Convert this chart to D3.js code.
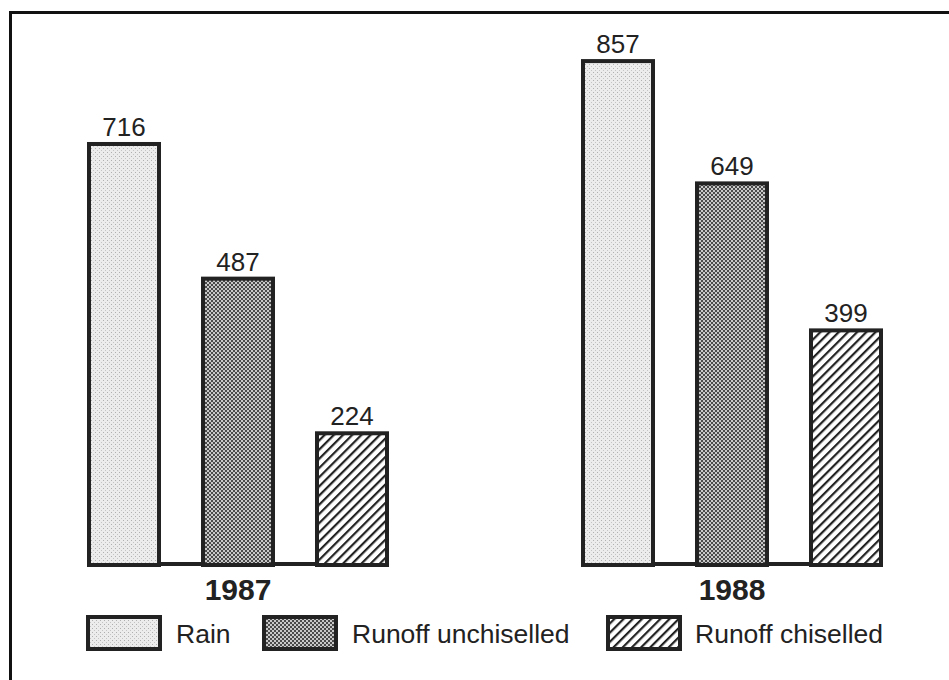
<!DOCTYPE html>
<html><head><meta charset="utf-8">
<script src="https://cdn.jsdelivr.net/npm/d3@7"></script>
<style>body{margin:0;background:#fff}svg{display:block}</style>
</head><body>
<script>
const years = ["1987", "1988"];
const seriesNames = ["Rain", "Runoff unchiselled", "Runoff chiselled"];
const values1987 = [716, 487, 224];
const values1988 = [857, 649, 399];
const allValues = [values1987, values1988];

const W = 949, H = 680;
const svg = d3.select("body").append("svg").attr("width", W).attr("height", H);
const defs = svg.append("defs");
const FONT = "Liberation Sans, Arial, Helvetica, sans-serif";

// patterns
const pRain = defs.append("pattern").attr("id","pRain").attr("patternUnits","userSpaceOnUse").attr("width",4).attr("height",4);
pRain.append("rect").attr("width",4).attr("height",4).attr("fill","#ececec");
pRain.append("rect").attr("x",0).attr("y",0).attr("width",1).attr("height",1).attr("fill","#b0b0b0");
pRain.append("rect").attr("x",2).attr("y",2).attr("width",1).attr("height",1).attr("fill","#c4c4c4");

const pUn = defs.append("pattern").attr("id","pUn").attr("patternUnits","userSpaceOnUse").attr("width",4).attr("height",4);
pUn.append("rect").attr("width",4).attr("height",4).attr("fill","#c8c8c8");
pUn.append("rect").attr("x",0).attr("y",0).attr("width",2).attr("height",2).attr("fill","#4a4a4a");
pUn.append("rect").attr("x",2).attr("y",2).attr("width",2).attr("height",2).attr("fill","#4a4a4a");

const pCh = defs.append("pattern").attr("id","pCh").attr("patternUnits","userSpaceOnUse").attr("width",6.5).attr("height",6.5)
  .attr("patternTransform","rotate(45)");
pCh.append("rect").attr("width",6.5).attr("height",6.5).attr("fill","#fff");
pCh.append("rect").attr("x",0).attr("y",0).attr("width",2.2).attr("height",6.5).attr("fill","#222");
const fills = ["url(#pRain)", "url(#pUn)", "url(#pCh)"];

// frame
svg.append("path").attr("d", `M10.5,${H+5} L10.5,12.5 L${W+5},12.5`).attr("fill","none").attr("stroke","#111").attr("stroke-width",3);

const baseY = 563;
const y = d3.scaleLinear().domain([0, 1000]).range([baseY, baseY - 588]);

const barW = 74, gap = 40;
const groupStart = {"1987": 87, "1988": 581};
const xs = d3.scaleOrdinal().domain(seriesNames).range([0, barW+gap, 2*(barW+gap)]);

years.forEach((yr, gi) => {
  const g = svg.append("g").attr("transform", `translate(${groupStart[yr]},0)`);
  const vals = allValues[gi];
  g.append("line").attr("x1",0).attr("x2",3*barW+2*gap).attr("y1",baseY+1).attr("y2",baseY+1)
    .attr("stroke","#222").attr("stroke-width",4);
  seriesNames.forEach((s, i) => {
    const v = vals[i];
    g.append("rect").attr("x", xs(s)+2).attr("y", y(v)+2).attr("width", barW-4).attr("height", baseY - y(v))
      .attr("fill", fills[i]).attr("stroke","#222").attr("stroke-width",4);
    g.append("text").attr("x", xs(s)+barW/2).attr("y", y(v)-6).attr("text-anchor","middle")
      .attr("font-family",FONT).attr("font-size",26).attr("fill","#222").text(v);
  });
  g.append("text").attr("x", (3*barW+2*gap)/2).attr("y", 600).attr("text-anchor","middle")
    .attr("font-family",FONT).attr("font-weight","bold").attr("font-size",30).attr("fill","#222").text(yr);
});

// legend
const legSwX = [88, 264, 608];
const legTextX = [176, 352, 695];
seriesNames.forEach((s, i) => {
  svg.append("rect").attr("x", legSwX[i]).attr("y", 617).attr("width", 72).attr("height", 32)
    .attr("fill", fills[i]).attr("stroke","#222").attr("stroke-width",4);
  svg.append("text").attr("x", legTextX[i]).attr("y", 643)
    .attr("font-family",FONT).attr("font-size",26.5).attr("fill","#222").text(s);
});
</script>
</body></html>
